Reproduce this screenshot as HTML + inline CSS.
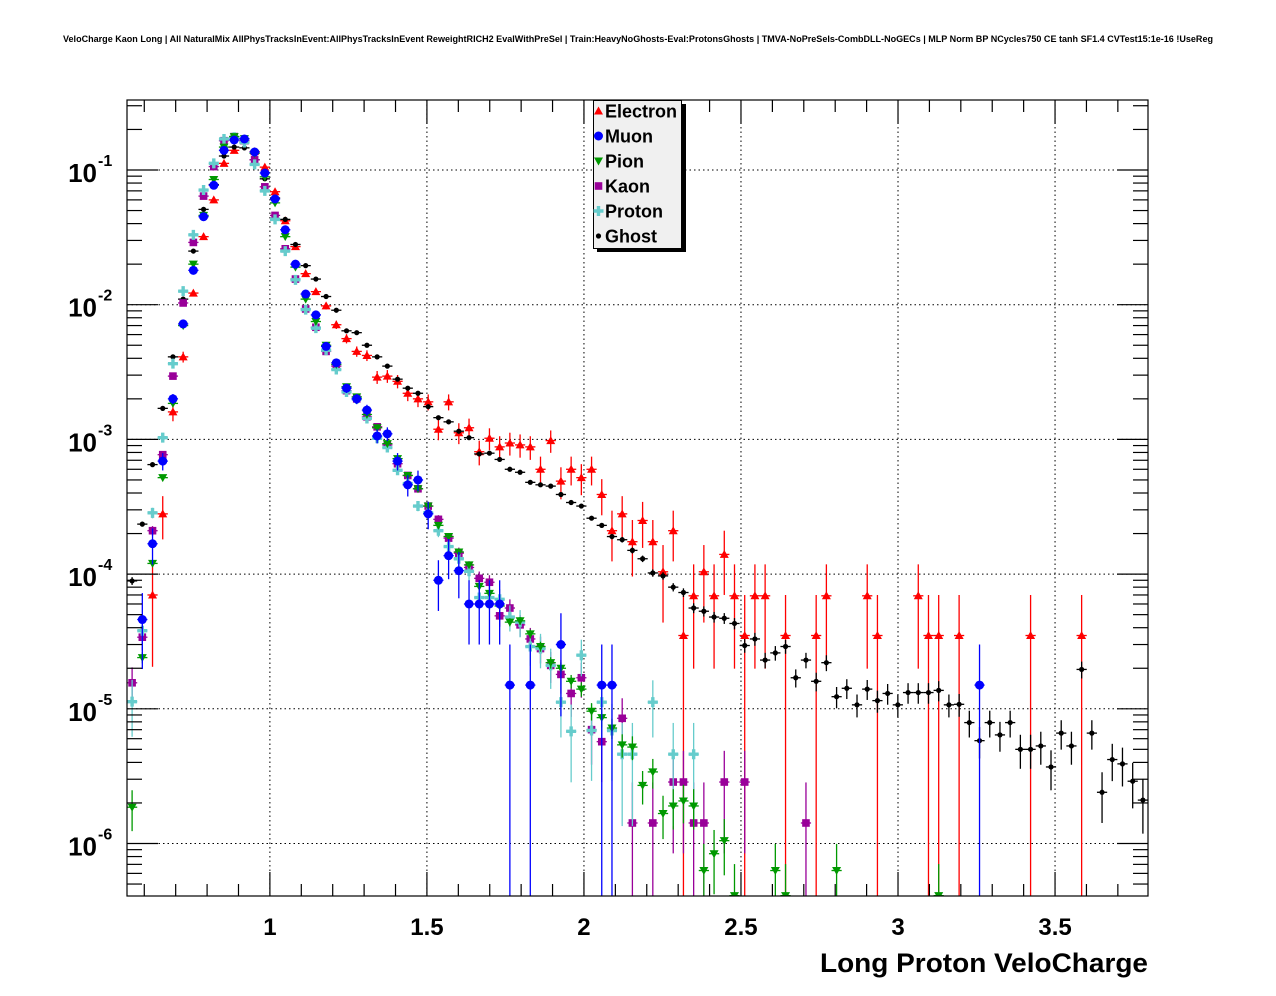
<!DOCTYPE html>
<html><head><meta charset="utf-8"><title>VeloCharge</title>
<style>html,body{margin:0;padding:0;background:#fff;}svg{display:block;font-family:"Liberation Sans",Arial,sans-serif;}</style>
</head><body>
<svg id="chart" width="1276" height="996" viewBox="0 0 1276 996" xmlns="http://www.w3.org/2000/svg">
<rect x="0" y="0" width="1276" height="996" fill="#fff"/>
<text x="63" y="42" font-size="9" font-weight="bold" textLength="1150" lengthAdjust="spacingAndGlyphs">VeloCharge Kaon Long | All NaturalMix AllPhysTracksInEvent:AllPhysTracksInEvent ReweightRICH2 EvalWithPreSel | Train:HeavyNoGhosts-Eval:ProtonsGhosts | TMVA-NoPreSels-CombDLL-NoGECs | MLP Norm BP NCycles750 CE tanh SF1.4 CVTest15:1e-16 !UseReg</text>
<defs><clipPath id="plotclip"><rect x="127" y="100" width="1021" height="796"/></clipPath></defs>
<g id="grid"></g>
<g id="series" clip-path="url(#plotclip)"></g>
<rect x="127" y="100" width="1021" height="796" fill="none" stroke="#000" stroke-width="1.2"/>
<g id="axes"></g>
<text x="1148" y="972" font-size="27" font-weight="bold" text-anchor="end" textLength="328" lengthAdjust="spacingAndGlyphs">Long Proton VeloCharge</text>
<g id="legend"></g>
</svg>
<script>
const xMin = 0.545, xMax = 3.796, nBins = 100;
const xTicks = [1, 1.5, 2, 2.5, 3, 3.5];
const xTickLabels = ["1", "1.5", "2", "2.5", "3", "3.5"];
const yDecades = [-1, -2, -3, -4, -5, -6];
const seriesNames = ["Electron", "Muon", "Pion", "Kaon", "Proton", "Ghost"];
const N = null;
const electron = [N,N,7.0e-5,2.8e-4,1.6e-3,4.1e-3,1.22e-2,3.2e-2,6.0e-2,0.112,
0.14,0.164,0.137,0.105,6.9e-2,4.2e-2,2.7e-2,1.7e-2,1.25e-2,9.8e-3,
7.1e-3,5.6e-3,4.5e-3,4.2e-3,2.9e-3,2.95e-3,2.7e-3,2.2e-3,2.0e-3,1.9e-3,
1.19e-3,1.9e-3,1.12e-3,1.22e-3,8.1e-4,1.02e-3,8.8e-4,9.4e-4,9.1e-4,8.8e-4,
6.0e-4,9.8e-4,4.9e-4,6.0e-4,5.2e-4,6.0e-4,3.9e-4,2.1e-4,2.8e-4,1.74e-4,
2.5e-4,1.74e-4,1.04e-4,2.1e-4,3.5e-5,6.9e-5,1.04e-4,6.9e-5,1.4e-4,6.9e-5,
3.5e-5,6.9e-5,6.9e-5,N,3.5e-5,N,N,3.5e-5,6.9e-5,N,
N,N,6.9e-5,3.5e-5,N,N,N,6.9e-5,3.5e-5,3.5e-5,
N,3.5e-5,N,N,N,N,N,N,3.5e-5,N,
N,N,N,3.5e-5,N,N,N,N,N,N];
const muon = [N,4.6e-5,1.68e-4,6.9e-4,2.0e-3,7.2e-3,1.8e-2,4.5e-2,7.7e-2,0.14,
0.167,0.17,0.136,9.5e-2,6.1e-2,3.6e-2,2.0e-2,1.2e-2,8.4e-3,4.9e-3,
3.7e-3,2.4e-3,2.0e-3,1.65e-3,1.06e-3,1.1e-3,6.9e-4,4.6e-4,5.0e-4,2.8e-4,
9.0e-5,1.37e-4,1.06e-4,6.0e-5,6.0e-5,6.0e-5,6.0e-5,1.5e-5,N,1.5e-5,
N,N,3.0e-5,N,N,N,1.5e-5,1.5e-5,N,N,
N,N,N,N,N,N,N,N,N,N,
N,N,N,N,N,N,N,N,N,N,
N,N,N,N,N,N,N,N,N,N,
N,N,N,1.5e-5,N,N,N,N,N,N,
N,N,N,N,N,N,N,N,N,N];
const pion = [1.86e-6,2.4e-5,1.2e-4,5.2e-4,1.85e-3,7.0e-3,2.0e-2,4.6e-2,8.5e-2,0.148,
0.177,0.171,0.133,8.9e-2,5.7e-2,3.2e-2,1.9e-2,1.1e-2,7.5e-3,5.0e-3,
3.6e-3,2.46e-3,2.07e-3,1.53e-3,1.22e-3,9.3e-4,7.2e-4,5.4e-4,4.3e-4,3.2e-4,
2.3e-4,1.9e-4,1.46e-4,1.17e-4,8.1e-5,7.2e-5,5.8e-5,4.4e-5,4.5e-5,3.6e-5,
2.9e-5,2.2e-5,2.0e-5,1.6e-5,1.4e-5,9.6e-6,8.6e-6,7.2e-6,5.4e-6,5.2e-6,
2.7e-6,3.4e-6,1.67e-6,1.9e-6,2.07e-6,1.9e-6,6.3e-7,8.4e-7,1.05e-6,4.1e-7,
N,N,N,6.3e-7,4.1e-7,N,N,N,N,6.3e-7,
N,N,N,N,N,N,N,N,N,4.1e-7,
N,N,N,N,N,N,N,N,N,N,
N,N,N,N,N,N,N,N,N,N];
const kaon = [1.56e-5,3.4e-5,2.1e-4,7.7e-4,2.95e-3,1.03e-2,2.9e-2,6.4e-2,0.106,0.165,
0.177,0.165,0.119,7.5e-2,4.6e-2,2.6e-2,1.55e-2,9.3e-3,6.8e-3,4.5e-3,
3.5e-3,2.3e-3,2.0e-3,1.47e-3,1.24e-3,9.1e-4,6.6e-4,5.4e-4,4.3e-4,3.2e-4,
2.55e-4,1.85e-4,1.43e-4,1.12e-4,9.3e-5,8.7e-5,4.9e-5,5.6e-5,4.2e-5,3.3e-5,
2.8e-5,2.1e-5,1.8e-5,1.3e-5,1.7e-5,7.0e-6,5.7e-6,N,8.5e-6,1.42e-6,
N,1.42e-6,N,2.86e-6,2.86e-6,1.42e-6,1.42e-6,N,2.86e-6,N,
2.86e-6,N,N,N,N,N,1.42e-6,N,N,N,
N,N,N,N,N,N,N,N,N,N,
N,N,N,N,N,N,N,N,N,N,
N,N,N,N,N,N,N,N,N,N];
const proton = [1.13e-5,3.8e-5,2.85e-4,1.03e-3,3.65e-3,1.26e-2,3.3e-2,7.1e-2,0.112,0.17,
0.175,0.16,0.11,7.0e-2,4.3e-2,2.5e-2,1.53e-2,9.2e-3,6.7e-3,4.6e-3,
3.3e-3,2.25e-3,2.0e-3,1.43e-3,1.02e-3,8.7e-4,5.9e-4,4.7e-4,3.2e-4,2.85e-4,
2.1e-4,1.6e-4,1.3e-4,1.05e-4,6.7e-5,6.7e-5,6.5e-5,4.8e-5,4.4e-5,2.9e-5,
2.8e-5,2.1e-5,1.12e-5,6.8e-6,2.5e-5,6.9e-6,1.12e-5,6.9e-6,4.6e-6,4.6e-6,
N,1.12e-5,N,4.6e-6,N,4.6e-6,N,N,N,N,
N,N,N,N,N,N,N,N,N,N,
N,N,N,N,N,N,N,N,N,N,
N,N,N,N,N,N,N,N,N,N,
N,N,N,N,N,N,N,N,N,N];
const ghost = [8.9e-5,2.35e-4,6.5e-4,1.7e-3,4.1e-3,1.1e-2,2.5e-2,5.1e-2,7.8e-2,0.127,
0.148,0.146,0.119,8.6e-2,6.2e-2,4.3e-2,2.8e-2,1.95e-2,1.55e-2,1.15e-2,
9.1e-3,6.4e-3,6.2e-3,5.0e-3,4.1e-3,3.5e-3,2.8e-3,2.4e-3,2.2e-3,1.75e-3,
1.45e-3,1.35e-3,1.15e-3,1.03e-3,7.8e-4,7.9e-4,7.1e-4,6.0e-4,5.7e-4,4.8e-4,
4.6e-4,4.5e-4,3.9e-4,3.4e-4,3.2e-4,2.6e-4,2.3e-4,1.9e-4,1.8e-4,1.5e-4,
1.3e-4,1.02e-4,9.7e-5,8.0e-5,7.3e-5,5.6e-5,5.3e-5,4.8e-5,4.7e-5,4.3e-5,
2.95e-5,3.3e-5,2.3e-5,2.6e-5,2.9e-5,1.7e-5,2.3e-5,1.6e-5,2.2e-5,1.23e-5,
1.42e-5,1.07e-5,1.4e-5,1.15e-5,1.3e-5,1.07e-5,1.32e-5,1.32e-5,1.32e-5,1.37e-5,
1.07e-5,1.08e-5,7.9e-6,5.8e-6,7.9e-6,6.4e-6,7.9e-6,5.0e-6,5.0e-6,5.3e-6,
3.7e-6,6.6e-6,5.3e-6,1.96e-5,6.6e-6,2.4e-6,4.2e-6,3.9e-6,2.9e-6,2.1e-6];
const eventWeights = [3.5e-5, 1.5e-5, 2.1e-7, 1.42e-6, 2.3e-6, 4e-7];

const NS = "http://www.w3.org/2000/svg";
const PL = 127, PR = 1148, PT = 100, PB = 896;
const Y1 = 170, DEC = 134.7;
function xp(x){ return PL + (x - xMin) / (xMax - xMin) * (PR - PL); }
function yp(v){ return Y1 + (-1 - Math.log10(v)) * DEC; }
function mk(tag, attrs, parent){ const e = document.createElementNS(NS, tag); for (const k in attrs) e.setAttribute(k, attrs[k]); parent.appendChild(e); return e; }
const logMin = -1 - (PB - Y1) / DEC, logMax = -1 + (Y1 - PT) / DEC;

const grid = document.getElementById('grid');
const axes = document.getElementById('axes');
// grid lines
xTicks.forEach(t => {
  const l = mk('line', {x1: xp(t), x2: xp(t), y1: PT, y2: PB, stroke: '#000', 'stroke-width': 1, 'stroke-dasharray': '1.5,3'}, grid);
  
  
});
yDecades.forEach(d => {
  const y = yp(Math.pow(10, d));
  const l = mk('line', {x1: PL, x2: PR, y1: y, y2: y, stroke: '#000', 'stroke-width': 1, 'stroke-dasharray': '1.5,3'}, grid);
  
  
});
// x ticks
for (let k = 6; k <= 37; k++) {
  const t = k / 10; const x = xp(t);
  const major = (k % 5 === 0);
  const len = major ? 24 : 12;
  const a = mk('line', {x1: x, x2: x, y1: PB, y2: PB - len, stroke: '#000', 'stroke-width': 1.2}, axes);
  
  
  const b = mk('line', {x1: x, x2: x, y1: PT, y2: PT + len, stroke: '#000', 'stroke-width': 1.2}, axes);
  
  
}
xTicks.forEach((t, i) => {
  const tx = mk('text', {x: xp(t), y: 935, 'font-size': 24, 'font-weight': 'bold', 'text-anchor': 'middle'}, axes);
  tx.textContent = xTickLabels[i];
  
  
});
// y ticks
for (let d = -7; d <= 0; d++) {
  for (let m = 1; m <= 9; m++) {
    const lv = d + Math.log10(m);
    if (lv < logMin || lv > logMax) continue;
    const y = yp(m * Math.pow(10, d));
    const len = m === 1 ? 31 : 15;
    const a = mk('line', {x1: PL, x2: PL + len, y1: y, y2: y, stroke: '#000', 'stroke-width': 1.2}, axes);
    
    
    const b = mk('line', {x1: PR, x2: PR - len, y1: y, y2: y, stroke: '#000', 'stroke-width': 1.2}, axes);
    
    
  }
}
yDecades.forEach(d => {
  const y = yp(Math.pow(10, d));
  const tx = mk('text', {x: 97, y: y + 12, 'font-size': 26, 'font-weight': 'bold', 'text-anchor': 'end'}, axes);
  tx.textContent = '10';
  
  
  const sp = mk('text', {x: 98, y: y - 4, 'font-size': 16, 'font-weight': 'bold', 'text-anchor': 'start'}, axes);
  sp.textContent = String(d);
  
  
});

const colors = ['#ff0000', '#0000ff', '#009900', '#990099', '#66cccc', '#000000'];
function marker(kind, x, y, c, parent){
  let e;
  if (kind === 0) e = mk('polygon', {points: `${x},${y-4.5} ${x-4.5},${y+3.5} ${x+4.5},${y+3.5}`, fill: c}, parent);
  else if (kind === 1) e = mk('circle', {cx: x, cy: y, r: 4.5, fill: c}, parent);
  else if (kind === 2) e = mk('polygon', {points: `${x},${y+4.5} ${x-4.5},${y-3.5} ${x+4.5},${y-3.5}`, fill: c}, parent);
  else if (kind === 3) e = mk('rect', {x: x - 3.8, y: y - 3.8, width: 7.6, height: 7.6, fill: c}, parent);
  else if (kind === 4) e = mk('path', {d: `M${x-1.7},${y-5}h3.4v3.3h3.3v3.4h-3.3v3.3h-3.4v-3.3h-3.3v-3.4h3.3z`, fill: c}, parent);
  else e = mk('circle', {cx: x, cy: y, r: 2.6, fill: c}, parent);
  return e;
}
const layer = document.getElementById('series');
const allSeries = [electron, muon, pion, kaon, proton, ghost];
const drawOrder = [0, 5, 3, 4, 2, 1];
const bw = (xMax - xMin) / nBins;
drawOrder.forEach(si => {
  const g = mk('g', {}, layer);
  
  
  const data = allSeries[si], c = colors[si], w = eventWeights[si];
  data.forEach((v, i) => {
    if (v === null || v <= 0) return;
    const xc = xMin + (i + 0.5) * bw;
    const x = xp(xc), y = yp(v);
    const err = Math.sqrt(v * w);
    const lo = v - err;
    const yLo = lo > 0 ? Math.min(yp(lo), PB + 5) : PB + 5;
    const yHi = yp(v + err);
    const pt = mk('g', {}, g);
    
    
    mk('line', {x1: x, x2: x, y1: yHi, y2: yLo, stroke: c, 'stroke-width': 1.3}, pt);
    mk('line', {x1: xp(xc - bw / 2), x2: xp(xc + bw / 2), y1: y, y2: y, stroke: c, 'stroke-width': 1.3}, pt);
    marker(si, x, y, c, pt);
  });
});

// legend
const lg = document.getElementById('legend');
const sh = mk('rect', {x: 597, y: 104, width: 89, height: 148, fill: '#000'}, lg);


const box = mk('rect', {x: 593.5, y: 100.5, width: 88, height: 148, fill: '#f0f0f0', stroke: '#000', 'stroke-width': 1}, lg);


seriesNames.forEach((n, i) => {
  const y = 111 + i * 25;
  const en = mk('g', {}, lg);
  
  
  marker(i, 598.5, y, colors[i], en);
  const t = mk('text', {x: 605, y: y + 6.5, 'font-size': 18, 'font-weight': 'bold'}, en);
  t.textContent = n;
});
</script>
</body></html>
